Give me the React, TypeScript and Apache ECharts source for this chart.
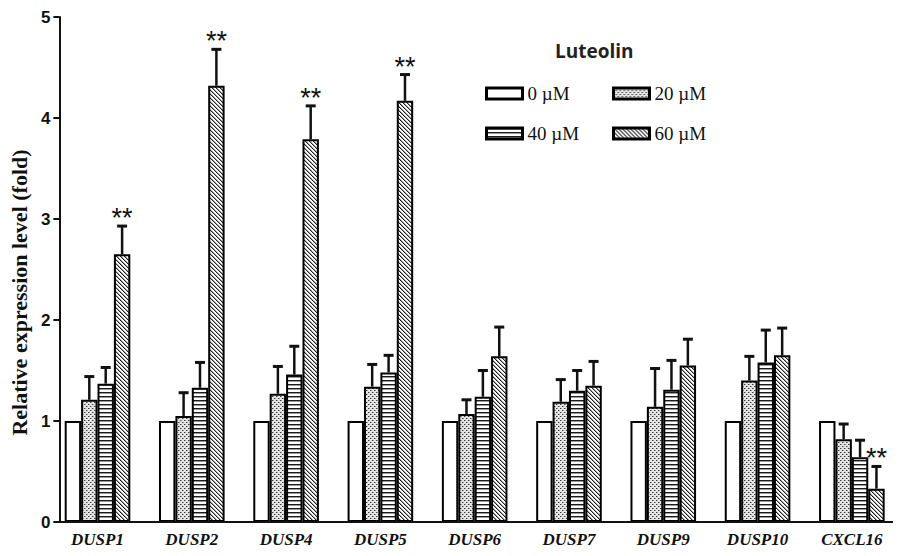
import { useEffect, useRef } from "react";
import * as echarts from "echarts";

// ---- data ----
const categories = ["DUSP1", "DUSP2", "DUSP4", "DUSP5", "DUSP6", "DUSP7", "DUSP9", "DUSP10", "CXCL16"];
const treatments = ["0 µM", "20 µM", "40 µM", "60 µM"];
const mean0 = [1, 1, 1, 1, 1, 1, 1, 1, 1];
const err0 = [0, 0, 0, 0, 0, 0, 0, 0, 0];
const mean20 = [1.21, 1.05, 1.27, 1.34, 1.07, 1.19, 1.14, 1.40, 0.82];
const err20 = [0.23, 0.23, 0.27, 0.22, 0.14, 0.22, 0.38, 0.24, 0.15];
const mean40 = [1.37, 1.33, 1.46, 1.48, 1.24, 1.30, 1.31, 1.58, 0.64];
const err40 = [0.16, 0.25, 0.28, 0.17, 0.26, 0.20, 0.29, 0.32, 0.17];
const mean60 = [2.65, 4.32, 3.79, 4.17, 1.64, 1.35, 1.55, 1.65, 0.33];
const err60 = [0.28, 0.36, 0.33, 0.26, 0.29, 0.24, 0.26, 0.27, 0.22];
const sig60 = [true, true, true, true, false, false, false, false, true];
const yTicks = [0, 1, 2, 3, 4, 5];

const means = [mean0, mean20, mean40, mean60];
const errs = [err0, err20, err40, err60];

// ---- layout ----
const W = 901;
const H = 556;
const GRID = { left: 48, right: 2, top: 17, bottom: 34 };
const Y_OFFSET = -9;
const BAR_W = 16.4;

function makePattern(kind: string): HTMLCanvasElement {
  const c = document.createElement("canvas");
  c.width = 4;
  c.height = 4;
  const ctx = c.getContext("2d")!;
  ctx.fillStyle = "#ffffff";
  ctx.fillRect(0, 0, 4, 4);
  if (kind === "dots") {
    ctx.fillStyle = "#e4e4e4";
    ctx.fillRect(0, 0, 4, 4);
    ctx.fillStyle = "#3a3a3a";
    ctx.fillRect(0, 0, 1, 1);
    ctx.fillRect(2, 2, 1, 1);
    ctx.fillStyle = "#9a9a9a";
    ctx.fillRect(1, 0, 1, 1);
    ctx.fillRect(3, 2, 1, 1);
  } else if (kind === "hlines") {
    ctx.fillStyle = "#1a1a1a";
    ctx.fillRect(0, 0, 4, 1);
    ctx.fillStyle = "#9a9a9a";
    ctx.fillRect(0, 1, 4, 1);
  } else if (kind === "diag") {
    for (let i = 0; i < 4; i++) {
      ctx.fillStyle = "#222222";
      ctx.fillRect(i, i, 1, 1);
      ctx.fillStyle = "#a0a0a0";
      ctx.fillRect((i + 1) % 4, i, 1, 1);
    }
  }
  return c;
}

export default function App() {
  const ref = useRef<HTMLDivElement>(null);

  useEffect(() => {
    if (!ref.current) return;
    const chart = echarts.init(ref.current, undefined, { renderer: "svg" });

    const fills: any[] = [
      "#ffffff",
      { image: makePattern("dots"), repeat: "repeat", imageWidth: 4, imageHeight: 4 },
      { image: makePattern("hlines"), repeat: "repeat", imageWidth: 4, imageHeight: 4 },
      { image: makePattern("diag"), repeat: "repeat", imageWidth: 4, imageHeight: 4 },
    ];

    const barSeries = treatments.map((name, t) => ({
      name,
      type: "bar",
      data: means[t],
      barWidth: BAR_W,
      barGap: "0%",
      itemStyle: { color: fills[t], borderColor: "#000", borderWidth: 2 },
      z: 2,
    }));

    const errData: any[] = [];
    for (let t = 1; t < 4; t++) {
      for (let c = 0; c < categories.length; c++) {
        errData.push([c, t, means[t][c], means[t][c] + errs[t][c], t === 3 && sig60[c] ? 1 : 0]);
      }
    }

    const errSeries = {
      type: "custom",
      name: "err",
      data: errData,
      encode: { x: 0, y: 3 },
      z: 5,
      silent: true,
      renderItem: (_p: any, api: any) => {
        const c = api.value(0);
        const t = api.value(1);
        const base = api.coord([c, api.value(2)]);
        const top = api.coord([c, api.value(3)]);
        const x = base[0] + (t - 1.5) * BAR_W;
        const children: any[] = [
          { type: "line", shape: { x1: x, y1: base[1], x2: x, y2: top[1] }, style: { stroke: "#111", lineWidth: 2.5 } },
          { type: "line", shape: { x1: x - 5, y1: top[1], x2: x + 5, y2: top[1] }, style: { stroke: "#111", lineWidth: 3 } },
        ];
        if (api.value(4)) {
          children.push({
            type: "text",
            x,
            y: top[1] - 8,
            style: {
              text: "**",
              fontSize: 27,
              fontFamily: "Liberation Sans",
              fill: "#111",
              align: "center",
              verticalAlign: "middle",
            },
          });
        }
        return { type: "group", children };
      },
    };

    const serif = "'Liberation Serif', 'Times New Roman', serif";

    chart.setOption({
      animation: false,
      backgroundColor: "#ffffff",
      title: {
        text: "Luteolin",
        left: 555,
        top: 41,
        padding: 0,
        textStyle: { fontFamily: "Open Sans", fontWeight: "bold", fontSize: 19, color: "#222" },
      },
      legend: [
        {
          data: [treatments[0], treatments[2]],
          left: 480,
          top: 79,
          orient: "vertical",
          itemWidth: 36,
          itemHeight: 11,
          itemGap: 21,
          selectedMode: false,
          icon: "rect",
          itemStyle: { borderColor: "#000", borderWidth: 3 },
          textStyle: { fontFamily: serif, fontSize: 19, color: "#111" },
        },
        {
          data: [treatments[1], treatments[3]],
          left: 607,
          top: 79,
          orient: "vertical",
          itemWidth: 36,
          itemHeight: 11,
          itemGap: 21,
          selectedMode: false,
          icon: "rect",
          itemStyle: { borderColor: "#000", borderWidth: 3 },
          textStyle: { fontFamily: serif, fontSize: 19, color: "#111" },
        },
      ],
      grid: { left: GRID.left, right: GRID.right, top: GRID.top, bottom: GRID.bottom, containLabel: false },
      xAxis: {
        type: "category",
        data: categories,
        axisLine: { show: false },
        axisTick: { show: false },
        axisLabel: {
          margin: 9,
          fontFamily: serif,
          fontStyle: "italic",
          fontWeight: "bold",
          fontSize: 17,
          color: "#111",
        },
      },
      yAxis: {
        type: "value",
        min: yTicks[0],
        max: yTicks[yTicks.length - 1],
        interval: 1,
        offset: Y_OFFSET,
        name: "Relative expression level (fold)",
        nameLocation: "middle",
        nameGap: 29,
        nameTextStyle: {
          fontFamily: serif,
          fontWeight: "bold",
          fontSize: 22,
          color: "#111",
          padding: [0, 46, 0, 0],
        },
        axisLine: { show: true, lineStyle: { color: "#111", width: 2 } },
        axisTick: { show: true, length: 6, lineStyle: { color: "#111", width: 2 } },
        axisLabel: { margin: 9, fontFamily: "Liberation Sans", fontWeight: "bold", fontSize: 17, color: "#111" },
        splitLine: { show: false },
      },
      graphic: [
        {
          type: "line",
          shape: { x1: GRID.left - Y_OFFSET, y1: H - GRID.bottom, x2: W - 8, y2: H - GRID.bottom },
          style: { stroke: "#111", lineWidth: 2 },
          z: 10,
        },
      ],
      series: [...barSeries, errSeries],
    });

    return () => chart.dispose();
  }, []);

  return (
    <div
      ref={ref}
      style={{ position: "fixed", left: 0, top: 0, width: W, height: H, background: "#fff" }}
    />
  );
}
